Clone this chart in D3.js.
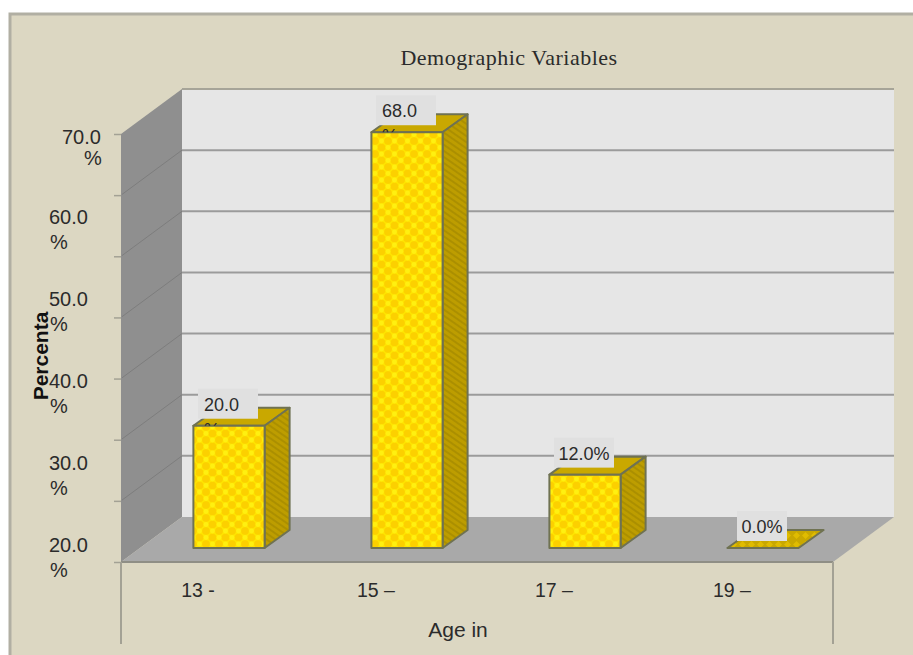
<!DOCTYPE html>
<html><head><meta charset="utf-8">
<style>html,body{margin:0;padding:0;background:#fff}svg{display:block}text{font-family:"Liberation Sans",Arial,sans-serif;fill:#2b2b2b}</style>
<script src="https://cdn.jsdelivr.net/npm/d3@7"></script></head><body>
<script>
const categories = ["13 -", "15 –", "17 –", "19 –"];
const values = [20, 68, 12, 0];
const valueLabels = ["20.0", "68.0", "12.0%", "0.0%"];
const wrappedLabels = [true, true, false, false];
const yTicks = [0, 10, 20, 30, 40, 50, 60, 70];
const yTickLabels = ["70.0", "60.0", "50.0", "40.0", "30.0", "20.0"];
const title = "Demographic Variables";
const xTitle = "Age in";
const yTitle = "Percenta";

const W = 913, H = 655;
const svg = d3.select("body").append("svg").attr("width", W).attr("height", H);
const defs = svg.append("defs");

// lattice pattern for the bar faces
const pf = defs.append("pattern").attr("id", "lattice").attr("patternUnits", "userSpaceOnUse")
  .attr("width", 13).attr("height", 13).attr("patternTransform", "translate(193,427)");
pf.append("rect").attr("width", 13).attr("height", 13).attr("fill", "#ffe400");
[[0, 0], [13, 0], [0, 13], [13, 13], [6.5, 6.5]].forEach(([a, b]) =>
  pf.append("circle").attr("cx", a).attr("cy", b).attr("r", 3.8).attr("fill", "#fcd000"));
[[6.5, 0], [6.5, 13], [0, 6.5], [13, 6.5]].forEach(([a, b]) =>
  pf.append("circle").attr("cx", a).attr("cy", b).attr("r", 2.4).attr("fill", "#fff010"));
const ps = defs.append("pattern").attr("id", "hatch").attr("patternUnits", "userSpaceOnUse")
  .attr("width", 5).attr("height", 5).attr("patternTransform", "rotate(-55)");
ps.append("rect").attr("width", 5).attr("height", 5).attr("fill", "#bd9d00");
ps.append("rect").attr("width", 2).attr("height", 5).attr("fill", "#ab8f00");
const pt = defs.append("pattern").attr("id", "flat").attr("patternUnits", "userSpaceOnUse")
  .attr("width", 9).attr("height", 9);
pt.append("rect").attr("width", 9).attr("height", 9).attr("fill", "#c9a800");
pt.append("path").attr("d", "M4.5 1L8 4.5L4.5 8L1 4.5Z").attr("fill", "#e0bc00");

// frame
svg.append("rect").attr("x", 10).attr("y", 14).attr("width", W + 10).attr("height", H + 10)
  .attr("fill", "#dcd7c2").attr("stroke", "#b1afa3").attr("stroke-width", 3);

const y = d3.scaleLinear().domain([0, 70]).range([562, 134]);
const x = d3.scaleBand().domain(categories).range([121, 833]).paddingInner(0.6).paddingOuter(0.3);
const depth = { dx: 61, dy: -45 };
const barShift = { dx: 19, dy: -14 };
const barDepth = { dx: 25, dy: -18 };
const line = d3.line();
const poly = pts => line(pts) + "Z";
const [x0, x1] = x.range();
const [y0, yTop] = y.range();

// walls
svg.append("path").attr("fill", "#e6e6e6")
  .attr("d", poly([[x0 + depth.dx, y0 + depth.dy], [x0 + depth.dx, yTop + depth.dy], [x1 + depth.dx, yTop + depth.dy], [x1 + depth.dx, y0 + depth.dy]]));
svg.append("path").attr("fill", "#8f8f8f")
  .attr("d", poly([[x0, y0], [x0, yTop], [x0 + depth.dx, yTop + depth.dy], [x0 + depth.dx, y0 + depth.dy]]));
svg.append("path").attr("fill", "#a9a9a9")
  .attr("d", poly([[x0, y0], [x1, y0], [x1 + depth.dx, y0 + depth.dy], [x0 + depth.dx, y0 + depth.dy]]));

// grid lines
const grid = svg.append("g").attr("fill", "none");
grid.selectAll("path.back").data(yTicks.slice(1, -1)).join("path").attr("class", "back")
  .attr("stroke", "#9b9b9b").attr("stroke-width", 2)
  .attr("d", v => line([[x0 + depth.dx, y(v) + depth.dy], [x1 + depth.dx, y(v) + depth.dy]]));
grid.selectAll("path.side").data(yTicks.slice(1, -1)).join("path").attr("class", "side")
  .attr("stroke", "#7d7d7d").attr("stroke-width", 1)
  .attr("d", v => line([[x0, y(v)], [x0 + depth.dx, y(v) + depth.dy]]));
grid.append("path").attr("stroke", "#a6a498").attr("stroke-width", 2)
  .attr("d", line([[x0 + depth.dx, yTop + depth.dy], [x1 + depth.dx, yTop + depth.dy]]));

// axes
const yAxis = svg.append("g").attr("transform", `translate(${x0},0)`)
  .call(d3.axisLeft(y).tickValues(yTicks).tickSize(7).tickFormat(""));
yAxis.selectAll("line").attr("stroke", "#a3a194").attr("stroke-width", 1.5);
yAxis.select(".domain").attr("stroke", "#8f8f8f");
svg.append("path").attr("stroke", "#8f8e85").attr("stroke-width", 2).attr("fill", "none")
  .attr("d", line([[x0, y0], [x1, y0]]));
svg.selectAll("path.xdiv").data([x0, x1]).join("path").attr("class", "xdiv")
  .attr("stroke", "#a3a194").attr("stroke-width", 2).attr("fill", "none")
  .attr("d", d => line([[d, y0], [d, y0 + 82]]));

// bars
const bars = svg.selectAll("g.bar").data(categories.map((c, i) => ({ c, v: values[i], i }))).join("g").attr("class", "bar")
  .attr("stroke", "#6f7252").attr("stroke-width", 2).attr("stroke-linejoin", "round");
const L = d => x(d.c) + barShift.dx, R = d => L(d) + x.bandwidth();
const T = d => y(d.v) + barShift.dy, B = () => y(0) + barShift.dy;
bars.append("path").attr("fill", d => d.v === 0 ? "url(#flat)" : "#c9a800")
  .attr("d", d => poly([[L(d), T(d)], [R(d), T(d)], [R(d) + barDepth.dx, T(d) + barDepth.dy], [L(d) + barDepth.dx, T(d) + barDepth.dy]]));
bars.filter(d => d.v > 0).append("path").attr("fill", "url(#hatch)")
  .attr("d", d => poly([[R(d), T(d)], [R(d) + barDepth.dx, T(d) + barDepth.dy], [R(d) + barDepth.dx, B() + barDepth.dy], [R(d), B()]]));
bars.filter(d => d.v > 0).append("rect").attr("fill", "url(#lattice)")
  .attr("x", L).attr("y", T).attr("width", x.bandwidth()).attr("height", d => B() - T(d));

// value labels
const labels = svg.selectAll("g.vlabel").data(categories.map((c, i) => ({ c, v: values[i], i }))).join("g").attr("class", "vlabel");
const cx = d => L(d) + x.bandwidth() / 2 - 1;
const boxW = d => d.v > 0 ? 60 : 50;
labels.append("rect").attr("fill", "#e0e0e0")
  .attr("x", d => cx(d) - boxW(d) / 2).attr("width", boxW).attr("y", d => T(d) - 37).attr("height", 30);
labels.append("text").attr("font-size", 18)
  .attr("text-anchor", d => wrappedLabels[d.i] ? "start" : "middle")
  .attr("x", d => wrappedLabels[d.i] ? cx(d) - 24 : cx(d)).attr("y", d => T(d) - 15).text(d => valueLabels[d.i]);
labels.filter(d => wrappedLabels[d.i]).each(function (d) {
  const id = "clip" + d.i;
  defs.append("clipPath").attr("id", id).append("rect")
    .attr("x", cx(d) - 30).attr("width", 60).attr("y", T(d) - 7).attr("height", 7);
  d3.select(this).append("text").attr("clip-path", `url(#${id})`).attr("font-size", 18)
    .attr("x", cx(d) - 24).attr("y", T(d) + 10).text("%");
});

// y tick labels
const yLab = d3.scalePoint().domain(yTickLabels).range([142, 552]);
const yl = svg.selectAll("g.ylab").data(yTickLabels).join("g").attr("class", "ylab").attr("font-size", 20);
yl.append("text").attr("x", (d, i) => i === 0 ? 62 : 49).attr("y", (d, i) => yLab(d) + (i === 0 ? 2 : 0)).text(d => d);
yl.append("text").attr("x", (d, i) => i === 0 ? 84 : 50).attr("y", (d, i) => yLab(d) + (i === 0 ? 23 : 25)).text("%");

// x tick labels
svg.selectAll("text.xlab").data(categories).join("text").attr("class", "xlab").attr("font-size", 19.5)
  .attr("text-anchor", "middle").attr("x", d => x(d) + x.bandwidth() / 2 - 12).attr("y", 597).text(d => d);

// titles
svg.append("text").attr("x", 509).attr("y", 65).attr("text-anchor", "middle")
  .style("font-family", '"Liberation Serif",serif').style("letter-spacing", "0.5px").attr("font-size", 22).text(title);
svg.append("text").attr("x", 458).attr("y", 637).attr("text-anchor", "middle").attr("font-size", 21).text(xTitle);
svg.append("text").attr("transform", "translate(48,356) rotate(-90)").attr("text-anchor", "middle")
  .attr("font-size", 21).attr("font-weight", "bold").style("fill", "#111").text(yTitle);
</script></body></html>
